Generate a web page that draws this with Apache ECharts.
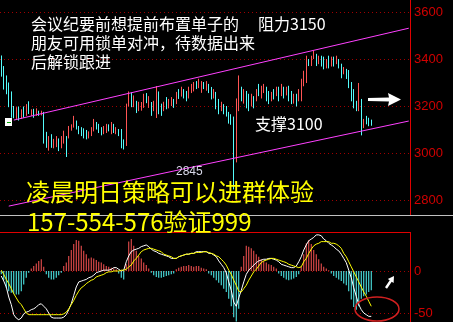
<!DOCTYPE html>
<html><head><meta charset="utf-8">
<script src="https://cdn.jsdelivr.net/npm/echarts@6/dist/echarts.min.js"></script>
<style>html,body{margin:0;padding:0;background:#000}#c{width:453px;height:322px}</style>
</head><body><div id="c"></div>
<script>
// ---- price panel data: [open, close, low, high] ----
const ohlc = [
[3409,3332,3325,3415],[3360,3280,3270,3370],[3320,3258,3250,3330],[3290,3200,3195,3300],[3255,3155,3150,3262],
[3195,3155,3148,3200],[3150,3190,3145,3195],[3195,3142,3138,3198],[3150,3183,3145,3186],[3195,3153,3150,3198],
[3162,3204,3158,3208],[3213,3170,3166,3220],[3162,3183,3158,3186],[3183,3155,3150,3188],[3162,3185,3158,3190],
[3176,3162,3158,3180],[3164,3176,3160,3180],[3170,3045,3040,3175],[3085,3028,3022,3090],[3015,3068,3010,3072],
[3077,3028,3022,3080],[3028,3055,3020,3060],[3030,3068,3025,3072],[3058,3013,3008,3062],[3025,3068,3020,3072],
[3045,3089,3040,3095],[3068,2990,2983,3072],[3068,3111,3062,3115],[3098,3119,3095,3122],[3111,3150,3108,3158],
[3132,3106,3100,3138],[3111,3085,3080,3115],[3105,3077,3072,3110],[3100,3068,3062,3105],[3095,3064,3058,3098],
[3068,3089,3062,3092],[3077,3106,3072,3110],[3098,3140,3092,3145],[3128,3106,3100,3132],[3119,3089,3085,3124],
[3106,3080,3075,3110],[3085,3111,3080,3115],[3089,3119,3085,3124],[3119,3098,3092,3122],[3085,3128,3080,3132],
[3119,3089,3085,3124],[3085,3106,3080,3110],[3098,3077,3072,3102],[3098,3026,3020,3102],[3055,3021,3015,3058],
[3034,3204,3030,3210],[3204,3258,3198,3262],[3250,3200,3195,3258],[3200,3238,3195,3245],[3217,3174,3170,3222],
[3183,3213,3178,3218],[3185,3213,3180,3217],[3196,3247,3192,3252],[3250,3217,3212,3255],[3196,3238,3192,3242],
[3213,3162,3158,3217],[3183,3217,3178,3222],[3160,3270,3149,3285],[3255,3170,3165,3262],[3204,3162,3158,3210],
[3183,3213,3178,3218],[3234,3191,3186,3238],[3196,3226,3190,3230],[3204,3234,3200,3238],[3226,3196,3192,3230],
[3213,3255,3208,3260],[3268,3234,3230,3272],[3245,3277,3240,3282],[3268,3238,3232,3272],[3260,3226,3220,3264],
[3238,3277,3232,3282],[3260,3289,3255,3294],[3268,3298,3262,3302],[3302,3277,3272,3306],[3281,3311,3276,3316],
[3262,3300,3256,3306],[3298,3277,3272,3302],[3270,3302,3265,3306],[3289,3260,3255,3294],[3277,3234,3228,3281],
[3238,3268,3232,3272],[3255,3191,3186,3260],[3226,3170,3165,3230],[3183,3213,3178,3218],[3204,3170,3165,3208],
[3196,3160,3155,3200],[3170,3132,3125,3175],[3160,3128,3120,3165],[3149,2875,2845,3155],[2970,3226,2960,3232],
[3183,3323,3178,3330],[3277,3226,3220,3282],[3215,3268,3210,3272],[3260,3196,3190,3264],[3247,3183,3178,3252],
[3204,3247,3198,3252],[3238,3196,3190,3242],[3226,3268,3220,3272],[3289,3247,3242,3294],[3238,3281,3232,3286],
[3260,3289,3255,3294],[3277,3226,3220,3282],[3260,3213,3208,3264],[3226,3255,3220,3260],[3268,3234,3228,3272],
[3247,3277,3242,3282],[3277,3226,3220,3282],[3247,3289,3242,3294],[3277,3238,3232,3282],[3250,3277,3245,3282],
[3281,3226,3220,3286],[3260,3213,3208,3264],[3215,3247,3210,3252],[3247,3204,3198,3252],[3226,3268,3220,3272],
[3226,3311,3220,3316],[3289,3345,3284,3350],[3302,3409,3298,3414],[3396,3374,3370,3400],[3374,3409,3370,3414],
[3404,3430,3400,3436],[3417,3374,3370,3422],[3383,3409,3378,3414],[3409,3374,3368,3414],[3404,3362,3356,3410],
[3366,3396,3360,3400],[3409,3366,3360,3414],[3374,3404,3368,3410],[3404,3374,3368,3410],[3383,3409,3378,3414],
[3396,3366,3360,3400],[3374,3323,3318,3380],[3340,3362,3335,3366],[3353,3320,3315,3358],[3340,3281,3276,3353],
[3298,3226,3220,3302],[3268,3196,3190,3272],[3217,3183,3178,3222],[3183,3290,3178,3298],[3226,3110,3075,3230],
[3111,3140,3106,3145],[3153,3128,3122,3158],[3145,3119,3114,3150],[3140,3122,3116,3142]
];
// channel lines: [category index, price]
const upperChannel = [[5, 3140], [163, 3531]];
const lowerChannel = [[3, 2774], [163, 3136]];
const priceTicks = [2800, 3000, 3200, 3400, 3600];

// ---- MACD panel data ----
const dif = [-6,-12,-19,-31,-40,-52,-56,-58,-56,-51, -49,-48,-46,-45,-43,-40,-39,-42,-45,-50,
 -55,-56,-56,-56,-56,-55,-52,-46,-39,-29, -19,-13,-12,-11,-10,-8,-7,-5,-2,-1,
 0,1,1,1,2,4,4,2,0,1, 11,18,23,25,26,27,29,30,31,29,
 26,24,23,21,20,19,18,17,15,15, 15,17,18,19,20,20,21,21,23,23,
 23,23,23,21,21,19,17,12,8,4, -2,-13,-23,-37,-42,-32,-23,-13,-4,1,
 4,7,10,12,13,14,14,15,15,14, 13,11,8,7,6,5,4,4,6,11,
 17,25,31,36,38,40,43,43,42,38, 36,33,31,29,26,24,20,15,10,1,
 -8,-20,-30,-40,-46,-50,-52,-54,-54];
const dea = [1,-4,-10,-15,-21,-27,-32,-37,-40,-45, -50,-52,-52,-52,-52,-52,-52,-52,-52,-52,
 -52,-52,-52,-52,-52,-51,-49,-45,-40,-35, -29,-24,-20,-18,-15,-13,-11,-10,-7,-6,
 -5,-4,-2,-1,-1,0,0,0,1,1, 2,5,7,12,15,19,23,25,26,27,
 27,26,25,24,23,20,19,18,17,15, 15,17,18,19,20,20,21,21,22,22,
 22,23,23,22,21,20,18,17,14,11, 7,1,-4,-11,-17,-24,-25,-21,-17,-11,
 -6,-1,2,6,10,12,13,14,15,15, 14,13,12,11,10,8,7,6,5,4,
 5,11,15,21,26,30,32,33,35,35, 35,35,33,33,32,30,27,21,17,11,
 5,-1,-7,-13,-19,-25,-30,-36,-42];
const hist = [-4,-11,-20,-24,-26,-27,-28,-28,-24,-16, -8,-2,3,6,9,12,14,5,-4,-8,
 -10,-10,-8,-5,-2,6,10,18,25,32, 37,36,30,24,20,15,16,15,13,11,
 10,8,6,5,4,3,2,-3,-8,-10, 8,35,38,30,24,18,15,10,7,3,
 -2,-5,-7,-8,-8,-7,-6,-5,-4,-3, 2,4,5,6,6,7,6,5,6,6,
 4,3,2,-3,-5,-8,-11,-14,-17,-21, -25,-33,-42,-55,-60,-45,5,18,30,29,
 27,24,20,17,14,12,10,8,7,5, 3,-3,-6,-8,-10,-11,-10,-9,-7,-4,
 5,20,33,37,32,25,20,14,9,5, 3,1,-3,-6,-8,-10,-12,-15,-17,-24,
 -34,-43,-46,-42,-33,-30,-28,-25,-23];
const macdTicks = [-50, 0];

const SLOTS = 164;
const categories = Array.from({length: SLOTS}, (_, i) => 'D' + (i + 1));

const UP = '#ff5454', DOWN = '#54fcfc';
const CJK = '"Noto Sans CJK SC"';
const dotted = {color: '#a00000', type: [1, 3], width: 1};
const plainLabel = {color: '#d00000', fontSize: 13, fontFamily: 'Liberation Sans', margin: 4,
  formatter: v => String(v)};

function txt(t, x, y, size, color) {
  return {type: 'text', z: 100, silent: true,
    style: {text: t, x: x, y: y, fill: color, font: size + 'px ' + CJK,
      textVerticalAlign: 'middle', verticalAlign: 'middle'}};
}

const chart = echarts.init(document.getElementById('c'));
chart.setOption({
  animation: false,
  backgroundColor: '#000',
  grid: [
    {left: 0, top: 12, width: 410, height: 188},
    {left: 0, top: 271, width: 410, height: 42}
  ],
  xAxis: [
    {type: 'category', data: categories, gridIndex: 0, show: false},
    {type: 'category', data: categories, gridIndex: 1, show: false}
  ],
  yAxis: [
    {type: 'value', gridIndex: 0, position: 'right', min: priceTicks[0], max: priceTicks[priceTicks.length-1], interval: 200,
     axisLine: {show: false}, axisTick: {show: false}, splitLine: {show: true, lineStyle: dotted},
     axisLabel: plainLabel},
    {type: 'value', gridIndex: 1, position: 'right', min: macdTicks[0], max: macdTicks[1], interval: 50,
     axisLine: {show: false}, axisTick: {show: false}, splitLine: {show: true, lineStyle: dotted},
     axisLabel: plainLabel}
  ],
  series: [
    {type: 'candlestick', xAxisIndex: 0, yAxisIndex: 0, data: ohlc, barWidth: 1,
     itemStyle: {color: UP, color0: DOWN, borderColor: UP, borderColor0: DOWN, borderWidth: 1}},
    {type: 'line', xAxisIndex: 0, yAxisIndex: 0, data: upperChannel, symbol: 'none', clip: false, silent: true,
     lineStyle: {color: '#ff40ff', width: 1}},
    {type: 'line', xAxisIndex: 0, yAxisIndex: 0, data: lowerChannel, symbol: 'none', clip: false, silent: true,
     lineStyle: {color: '#ff40ff', width: 1}},
    {type: 'bar', xAxisIndex: 1, yAxisIndex: 1, data: hist, barWidth: 1, clip: false,
     itemStyle: {color: p => p.value >= 0 ? UP : DOWN}},
    {type: 'line', xAxisIndex: 1, yAxisIndex: 1, data: dif, symbol: 'none', clip: false,
     lineStyle: {color: '#ffffff', width: 1}},
    {type: 'line', xAxisIndex: 1, yAxisIndex: 1, data: dea, symbol: 'none', clip: false,
     lineStyle: {color: '#ffff00', width: 1}}
  ],
  graphic: [
    {type: 'line', z: 50, shape: {x1: 410.5, y1: 0, x2: 410.5, y2: 215}, style: {stroke: '#e00000', lineWidth: 1}},
    {type: 'line', z: 50, shape: {x1: 0, y1: 215.5, x2: 453, y2: 215.5}, style: {stroke: '#c0c0c0', lineWidth: 1}},
    {type: 'line', z: 50, shape: {x1: 0, y1: 232.5, x2: 410.5, y2: 232.5}, style: {stroke: '#e00000', lineWidth: 1}},
    {type: 'line', z: 50, shape: {x1: 410.5, y1: 232, x2: 410.5, y2: 322}, style: {stroke: '#e00000', lineWidth: 1}},
    {type: 'rect', z: 60, shape: {x: 5, y: 118, width: 7, height: 8}, style: {fill: '#ffffff'}},
    {type: 'line', z: 61, shape: {x1: 7, y1: 122.5, x2: 11, y2: 122.5}, style: {stroke: '#00a000', lineWidth: 1}},
    txt('会议纪要前想提前布置单子的', 31, 24, 16, '#ffffff'),
    txt('阻力3150', 258, 24, 16, '#ffffff'),
    txt('朋友可用锁单对冲，待数据出来', 31, 43, 16, '#ffffff'),
    txt('后解锁跟进', 31, 62, 16, '#ffffff'),
    txt('支撑3100', 255, 124, 16, '#ffffff'),
    {type: 'text', z: 100, silent: true, style: {text: '2845', x: 176, y: 172, fill: '#d8d8e8',
      font: '12px "Liberation Sans"', textVerticalAlign: 'middle', verticalAlign: 'middle'}},
    txt('凌晨明日策略可以进群体验', 26, 192, 24, '#ffff00'),
    txt('157-554-576验证999', 27, 222, 24, '#ffff00'),
    {type: 'polygon', z: 100, shape: {points: [[368,98],[389,97.5],[388,93],[401,99.5],[388,106],[389,101.5],[368,101]]},
     style: {fill: '#ffffff'}},
    {type: 'polygon', z: 100, shape: {points: [[394,276],[393.6,282.9],[391.7,281.7],[387,288.7],[385,287.3],[389.7,280.3],[387.8,279.1]]},
     style: {fill: '#ffffff'}},
    {type: 'ellipse', z: 100, shape: {cx: 377, cy: 309, rx: 22, ry: 12},
     style: {fill: 'none', stroke: '#d02020', lineWidth: 1.5}}
  ]
});
</script>
</body></html>
